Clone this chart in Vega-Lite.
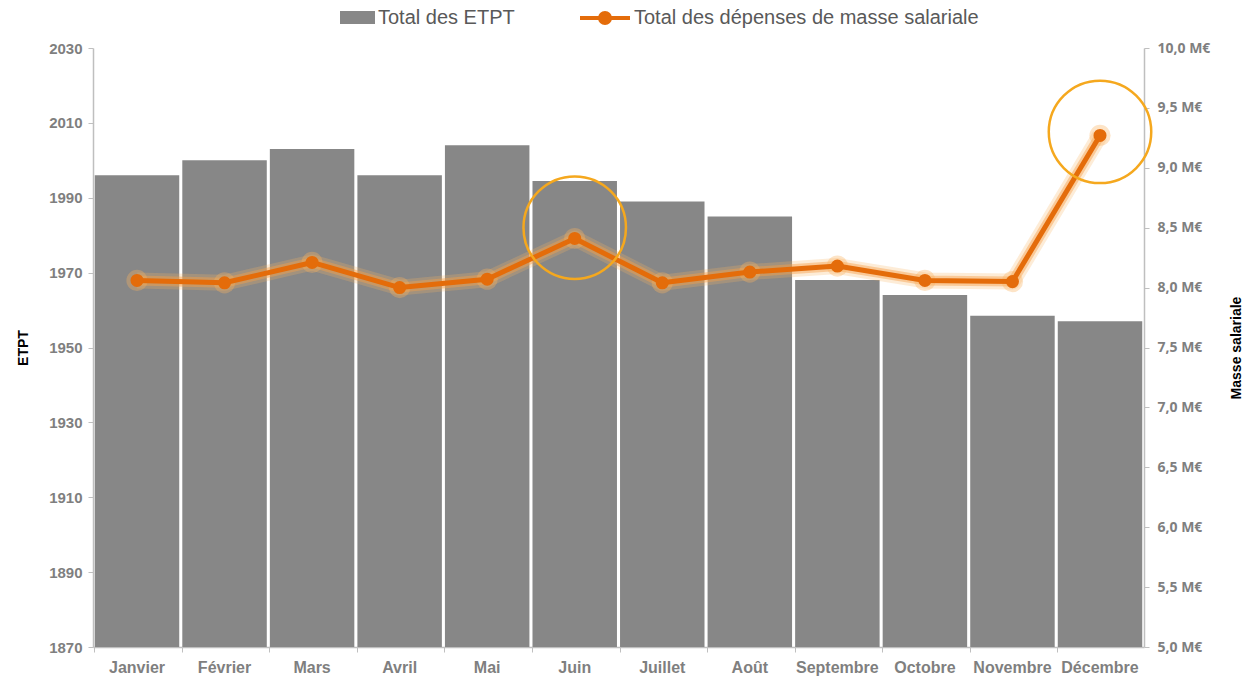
{
  "$schema": "https://vega.github.io/schema/vega-lite/v6.json",
  "width": 1051,
  "height": 599,
  "autosize": {"type": "none"},
  "padding": {"left": 93, "top": 48, "right": 113, "bottom": 32},
  "background": "white",
  "config": {
    "view": {"stroke": null},
    "font": "Liberation Sans",
    "axis": {"grid": false, "domainColor": "#bfbfbf", "tickColor": "#bfbfbf", "tickSize": 5, "domainWidth": 1.5}
  },
  "data": {"values": [
    {"mois": "Janvier", "etpt": 1996, "masse": 8.06},
    {"mois": "Février", "etpt": 2000, "masse": 8.04},
    {"mois": "Mars", "etpt": 2003, "masse": 8.21},
    {"mois": "Avril", "etpt": 1996, "masse": 8.0},
    {"mois": "Mai", "etpt": 2004, "masse": 8.07},
    {"mois": "Juin", "etpt": 1994.5, "masse": 8.41},
    {"mois": "Juillet", "etpt": 1989, "masse": 8.04},
    {"mois": "Août", "etpt": 1985, "masse": 8.13},
    {"mois": "Septembre", "etpt": 1968, "masse": 8.18},
    {"mois": "Octobre", "etpt": 1964, "masse": 8.06},
    {"mois": "Novembre", "etpt": 1958.5, "masse": 8.05},
    {"mois": "Décembre", "etpt": 1957, "masse": 9.27}
  ]},
  "encoding": {
    "x": {
      "field": "mois", "type": "nominal",
      "scale": {"domain": ["Janvier","Février","Mars","Avril","Mai","Juin","Juillet","Août","Septembre","Octobre","Novembre","Décembre"], "paddingInner": 0.035, "paddingOuter": 0.02},
      "axis": {"title": null, "labelAngle": 0, "bandPosition": 0, "labelFont": "Liberation Sans", "labelFontWeight": "bold", "labelFontSize": 16, "labelColor": "#7f7f7f", "labelPadding": 7}
    }
  },
  "layer": [
    {
      "mark": {"type": "bar", "color": "#878787", "clip": true},
      "encoding": {
        "y": {
          "field": "etpt", "type": "quantitative",
          "scale": {"domain": [1870, 2030], "zero": false, "nice": false},
          "axis": {"title": "ETPT", "format": "d", "values": [1870,1890,1910,1930,1950,1970,1990,2010,2030], "labelFont": "Liberation Sans", "labelFontWeight": "bold", "labelFontSize": 15, "labelColor": "#7f7f7f", "labelPadding": 6, "titleFont": "Liberation Sans", "titleFontWeight": "bold", "titleFontSize": 14, "titleColor": "#000000", "titlePadding": 18}
        },
        "color": {
          "datum": "Total des ETPT", "type": "nominal",
          "scale": {"range": ["#878787"]},
          "legend": {"title": null, "orient": "none", "legendX": 247, "legendY": -48, "symbolType": "M-1,-0.37H1V0.37H-1Z", "symbolSize": 1225, "symbolStrokeWidth": 0, "labelFont": "Liberation Sans", "labelFontSize": 20, "labelColor": "#595959", "labelOffset": 3, "labelLimit": 0}
        }
      }
    },
    {
      "encoding": {
        "y": {
          "field": "masse", "type": "quantitative",
          "scale": {"domain": [5, 10], "zero": false, "nice": false},
          "axis": {"title": "Masse salariale", "orient": "right", "values": [5,5.5,6,6.5,7,7.5,8,8.5,9,9.5,10], "labelExpr": "replace(format(datum.value, '.1f'), '.', ',') + ' M€'", "labelFont": "Open Sans", "labelFontWeight": "bold", "labelFontSize": 14, "labelColor": "#7f7f7f", "labelPadding": 8, "titleAngle": 270, "titleFont": "Liberation Sans", "titleFontWeight": "bold", "titleFontSize": 14, "titleColor": "#000000", "titlePadding": 34}
        }
      },
      "layer": [
        {"mark": {"type": "line", "color": "#F9B35E", "strokeWidth": 16, "opacity": 0.25, "strokeJoin": "round"}},
        {"mark": {"type": "line", "color": "#F7A04A", "strokeWidth": 10, "opacity": 0.45, "strokeJoin": "round"}},
        {"mark": {"type": "point", "shape": "circle", "filled": true, "color": "#F9B35E", "size": 450, "opacity": 0.35}},
        {
          "mark": {"type": "line", "strokeWidth": 5, "strokeJoin": "round"},
          "encoding": {
            "color": {
              "datum": "Total des dépenses de masse salariale", "type": "nominal",
              "scale": {"range": ["#E46C0A"]},
              "legend": {"title": null, "orient": "none", "legendX": 485, "legendY": -57, "symbolType": "M-1,0H1M-0.2,0A0.2,0.2 0 1,0 0.2,0A0.2,0.2 0 1,0 -0.2,0", "symbolSize": 2500, "symbolStrokeWidth": 4, "symbolStrokeColor": "#E46C0A", "symbolFillColor": "#E46C0A", "labelFont": "Liberation Sans", "labelFontSize": 20, "labelColor": "#595959", "labelOffset": 2, "labelLimit": 0,
                "encode": {"symbols": {"update": {"fill": {"value": "#E46C0A"}, "stroke": {"value": "#E46C0A"}}}}}
            }
          }
        },
        {"mark": {"type": "point", "shape": "circle", "filled": true, "color": "#E46C0A", "size": 170, "opacity": 1}},
        {
          "data": {"values": [
            {"mois": "Juin", "masse": 8.5},
            {"mois": "Décembre", "masse": 9.3}
          ]},
          "mark": {"type": "point", "shape": "circle", "filled": false, "color": "#F5A81E", "strokeWidth": 2.5, "size": 10500, "opacity": 1}
        }
      ]
    }
  ],
  "resolve": {"scale": {"y": "independent", "color": "independent"}}
}
